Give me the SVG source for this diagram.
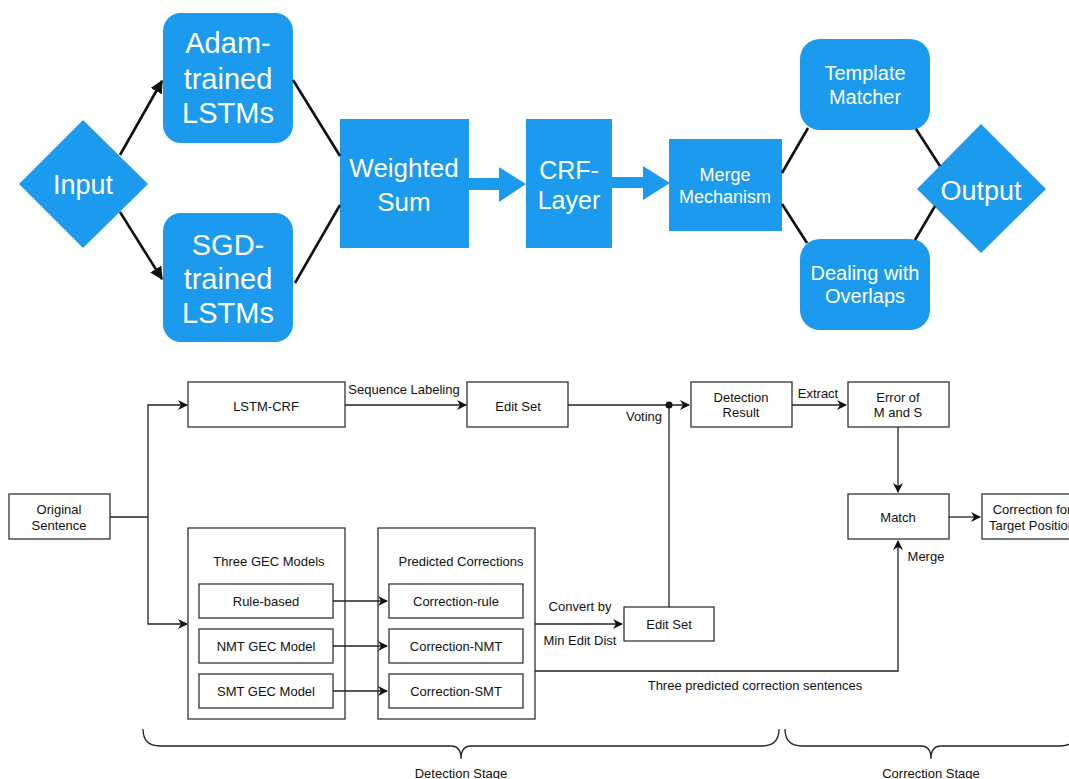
<svg xmlns="http://www.w3.org/2000/svg" width="1069" height="779" viewBox="0 0 1069 779">
<style>
.b{fill:#1b9aee}
.wt{fill:#fff;font-family:"Liberation Sans",Arial,sans-serif;text-anchor:middle}
.bx{fill:#fff;stroke:#333;stroke-width:1.3}
.t{font-family:"Liberation Sans",Arial,sans-serif;font-size:13px;fill:#111;text-anchor:middle}
.ln{fill:none;stroke:#222;stroke-width:1.3}
.tl{fill:none;stroke:#111;stroke-width:2.6}
</style>
<defs>
<marker id="ah" viewBox="0 0 10 10" refX="9" refY="5" markerWidth="10" markerHeight="10" markerUnits="userSpaceOnUse" orient="auto"><path d="M0,0 L10,5 L0,10 L3,5 Z" fill="#111"/></marker>
<marker id="ahT" viewBox="0 0 10 10" refX="9" refY="5" markerWidth="13" markerHeight="13" markerUnits="userSpaceOnUse" orient="auto"><path d="M0,0 L10,5 L0,10 Z" fill="#111"/></marker>
</defs>

<g id="input"><polygon class="b" points="19,184 83,120 148,184 83,248"/><text class="wt" x="83" y="194" font-size="27">Input</text></g>
<g id="adam"><rect class="b" x="163" y="13" width="130" height="130" rx="18"/><text class="wt" font-size="29"><tspan x="228" y="53">Adam-</tspan><tspan x="228" y="89">trained</tspan><tspan x="228" y="123">LSTMs</tspan></text></g>
<g id="sgd"><rect class="b" x="163" y="213" width="130" height="129" rx="18"/><text class="wt" font-size="29"><tspan x="228" y="255">SGD-</tspan><tspan x="228" y="289">trained</tspan><tspan x="228" y="323">LSTMs</tspan></text></g>
<g id="weighted"><rect class="b" x="340" y="119" width="129" height="129"/><text class="wt" font-size="26"><tspan x="404" y="177">Weighted</tspan><tspan x="404" y="211">Sum</tspan></text></g>
<g id="crf"><rect class="b" x="526" y="119" width="86" height="129"/><text class="wt" font-size="25"><tspan x="569" y="179">CRF-</tspan><tspan x="569" y="209">Layer</tspan></text></g>
<g id="merge"><rect class="b" x="669" y="139" width="113" height="92"/><text class="wt" font-size="18"><tspan x="725" y="181">Merge</tspan><tspan x="725" y="203">Mechanism</tspan></text></g>
<g id="template"><rect class="b" x="800" y="39" width="130" height="91" rx="20"/><text class="wt" font-size="20"><tspan x="865" y="80">Template</tspan><tspan x="865" y="104">Matcher</tspan></text></g>
<g id="dealing"><rect class="b" x="800" y="239" width="130" height="91" rx="20"/><text class="wt" font-size="20"><tspan x="865" y="280">Dealing with</tspan><tspan x="865" y="303">Overlaps</tspan></text></g>
<g id="output"><polygon class="b" points="917,189 981,124 1046,189 981,253"/><text class="wt" x="981" y="200" font-size="27">Output</text></g>

<g id="original"><rect class="bx" x="9" y="494" width="101" height="45"/><text class="t"><tspan x="59" y="514">Original</tspan><tspan x="59" y="530">Sentence</tspan></text></g>
<g id="lstmcrf"><rect class="bx" x="188" y="382" width="157" height="45"/><text class="t" x="266" y="411">LSTM-CRF</text></g>
<g id="editset1"><rect class="bx" x="467" y="382" width="101" height="45"/><text class="t" x="518" y="411">Edit Set</text></g>
<g id="detection"><rect class="bx" x="691" y="382" width="101" height="45"/><text class="t"><tspan x="741" y="402">Detection</tspan><tspan x="741" y="417">Result</tspan></text></g>
<g id="error"><rect class="bx" x="848" y="382" width="101" height="45"/><text class="t"><tspan x="898" y="402">Error of</tspan><tspan x="898" y="417">M and S</tspan></text></g>
<g id="match"><rect class="bx" x="848" y="494" width="101" height="45"/><text class="t" x="898" y="522">Match</text></g>
<g id="correction"><rect class="bx" x="982" y="494" width="101" height="45"/><text class="t"><tspan x="1032" y="514">Correction for</tspan><tspan x="1032" y="530">Target Position</tspan></text></g>
<g id="gecmodels"><rect class="bx" x="188" y="528" width="157" height="191"/><text class="t" x="269" y="566">Three GEC Models</text>
<rect class="bx" x="199" y="584" width="134" height="34"/><text class="t" x="266" y="606">Rule-based</text>
<rect class="bx" x="199" y="629" width="134" height="34"/><text class="t" x="266" y="651">NMT GEC Model</text>
<rect class="bx" x="199" y="674" width="134" height="34"/><text class="t" x="266" y="696">SMT GEC Model</text></g>
<g id="predicted"><rect class="bx" x="378" y="528" width="157" height="191"/><text class="t" x="461" y="566">Predicted Corrections</text>
<rect class="bx" x="389" y="584" width="134" height="34"/><text class="t" x="456" y="606">Correction-rule</text>
<rect class="bx" x="389" y="629" width="134" height="34"/><text class="t" x="456" y="651">Correction-NMT</text>
<rect class="bx" x="389" y="674" width="134" height="34"/><text class="t" x="456" y="696">Correction-SMT</text></g>
<g id="editset2"><rect class="bx" x="624" y="607" width="90" height="34"/><text class="t" x="669" y="629">Edit Set</text></g>

<g id="detection-stage"><path class="ln" d="M143,729 Q143,746 160,746 L451,746 Q461,746 461,759 Q461,746 471,746 L762,746 Q779,746 779,729"/><text class="t" x="461" y="778">Detection Stage</text></g>
<g id="correction-stage"><path class="ln" d="M785,729 Q785,746 802,746 L921,746 Q931,746 931,759 Q931,746 941,746 L1060,746 Q1077,746 1077,729"/><text class="t" x="931" y="778">Correction Stage</text></g>

<g id="connectors">
<line class="tl" x1="120" y1="155" x2="162" y2="81" marker-end="url(#ahT)"/>
<line class="tl" x1="120" y1="212" x2="162" y2="279" marker-end="url(#ahT)"/>
<line class="tl" x1="293" y1="80" x2="340" y2="156"/>
<line class="tl" x1="295" y1="283" x2="340" y2="205"/>
<line class="tl" x1="782" y1="173" x2="808" y2="128"/>
<line class="tl" x1="782" y1="204" x2="807" y2="243"/>
<line class="tl" x1="916" y1="129" x2="940" y2="166"/>
<line class="tl" x1="915" y1="240" x2="935" y2="206"/>
<path class="b" d="M468,178 L499,178 L499,167 L526,184 L499,202 L499,190 L468,190 Z"/>
<path class="b" d="M611,177 L643,177 L643,166 L670,183 L643,200 L643,188 L611,188 Z"/>

<polyline class="ln" points="110,517 148,517"/>
<polyline class="ln" points="148,517 148,405 187,405" marker-end="url(#ah)"/>
<polyline class="ln" points="148,517 148,624 187,624" marker-end="url(#ah)"/>
<line class="ln" x1="345" y1="405" x2="466" y2="405" marker-end="url(#ah)"/>
<line class="ln" x1="568" y1="405" x2="689" y2="405" marker-end="url(#ah)"/>
<line class="ln" x1="669" y1="607" x2="669" y2="405"/>
<circle cx="669" cy="405" r="3.5" fill="#111"/>
<line class="ln" x1="792" y1="405" x2="846" y2="405" marker-end="url(#ah)"/>
<line class="ln" x1="898" y1="427" x2="898" y2="492" marker-end="url(#ah)"/>
<line class="ln" x1="949" y1="517" x2="980" y2="517" marker-end="url(#ah)"/>
<line class="ln" x1="333" y1="601" x2="387" y2="601" marker-end="url(#ah)"/>
<line class="ln" x1="333" y1="646" x2="387" y2="646" marker-end="url(#ah)"/>
<line class="ln" x1="333" y1="691" x2="387" y2="691" marker-end="url(#ah)"/>
<line class="ln" x1="535" y1="624" x2="622" y2="624" marker-end="url(#ah)"/>
<polyline class="ln" points="535,671 898,671 898,541" marker-end="url(#ah)"/>
<text class="t" x="404" y="394">Sequence Labeling</text>
<text class="t" x="644" y="421">Voting</text>
<text class="t" x="818" y="398">Extract</text>
<text class="t" x="926" y="561">Merge</text>
<text class="t" x="580" y="611">Convert by</text>
<text class="t" x="580" y="645">Min Edit Dist</text>
<text class="t" x="755" y="690">Three predicted correction sentences</text>
</g>
</svg>
